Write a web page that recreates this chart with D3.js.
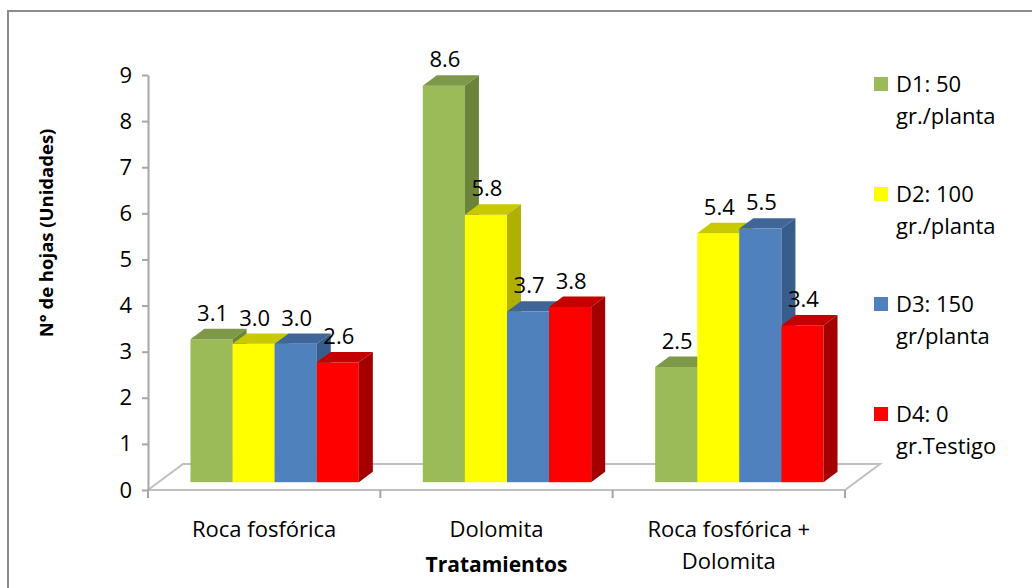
<!DOCTYPE html>
<html>
<head>
<meta charset="utf-8">
<script src="https://cdn.jsdelivr.net/npm/d3@7"></script>
<style>
  body { margin: 0; background: #fff; }
  text { font-family: "Open Sans", sans-serif; fill: #000; }
</style>
</head>
<body>
<div id="chart"></div>
<script>
// data
var categories = ["Roca fosfórica", "Dolomita", "Roca fosfórica + Dolomita"];
var categoryLines = [["Roca fosfórica"], ["Dolomita"], ["Roca fosfórica +", "Dolomita"]];
var seriesKeys = ["D1", "D2", "D3", "D4"];
var legendLines = [["D1: 50", "gr./planta"], ["D2: 100", "gr./planta"], ["D3: 150", "gr/planta"], ["D4: 0", "gr.Testigo"]];
var d1Values = [3.1, 8.6, 2.5];
var d2Values = [3.0, 5.8, 5.4];
var d3Values = [3.0, 3.7, 5.5];
var d4Values = [2.6, 3.8, 3.4];
var yTicks = [0, 1, 2, 3, 4, 5, 6, 7, 8, 9];

var seriesValues = [d1Values, d2Values, d3Values, d4Values];
// front, top, side colours
var faceColors = [
    ["#9bbb59", "#7d9848", "#6b843a"],
    ["#ffff00", "#c9c900", "#b0b000"],
    ["#4f81bd", "#3e6698", "#385d8a"],
    ["#ff0000", "#c40000", "#a50000"]
];

var svgWidth = 1032, svgHeight = 588;

var svg = d3.select("#chart")
    .append("svg")
    .attr("width", svgWidth)
    .attr("height", svgHeight);

// outer border
svg.append("rect")
    .attr("x", 8).attr("y", 11)
    .attr("width", 1040).attr("height", 600)
    .attr("fill", "none")
    .attr("stroke", "#8c8c8c")
    .attr("stroke-width", 2);

// floor geometry (front plane) + depth
var x0 = 148, x1 = 845, yBase = 490;
var depth = {dx: 35, dy: -26};
var barFront = 0.3, barBack = 0.7;

var xScale = d3.scaleBand()
    .domain(categories)
    .range([x0, x1]);

var xInner = d3.scaleBand()
    .domain(seriesKeys)
    .range([0, xScale.bandwidth()])
    .paddingOuter(0.76);

var yScale = d3.scaleLinear()
    .domain([0, 9])
    .range([yBase, 75]);

// floor
var floorPts = [
    [x0, yBase], [x1, yBase],
    [x1 + depth.dx, yBase + depth.dy], [x0 + depth.dx, yBase + depth.dy]
];
svg.append("polygon")
    .attr("points", floorPts.map(p => p.join(",")).join(" "))
    .attr("fill", "#fff")
    .attr("stroke", "#c0c0c0")
    .attr("stroke-width", 2);

// x ticks on front edge
var bounds = categories.map(c => xScale(c)).concat([x1]);
svg.selectAll(".xtick")
    .data(bounds)
    .enter()
    .append("line")
    .attr("x1", d => d).attr("x2", d => d)
    .attr("y1", yBase).attr("y2", yBase + 8)
    .attr("stroke", "#a6a6a6")
    .attr("stroke-width", 2);

// y axis
var leftAxis = d3.axisLeft(yScale)
    .tickValues(yTicks)
    .tickSize(6)
    .tickSizeOuter(0)
    .tickPadding(10);

var yAxisG = svg.append("g")
    .attr("transform", `translate(${x0}, 0)`)
    .call(leftAxis);
yAxisG.select(".domain").attr("stroke", "#a6a6a6").attr("stroke-width", 2);
yAxisG.selectAll(".tick line").attr("stroke", "#a6a6a6").attr("stroke-width", 2);
yAxisG.selectAll(".tick text")
    .attr("font-size", "22px")
    .attr("font-family", "Open Sans, sans-serif")
    .attr("fill", "#000");

// bars
var ofx = depth.dx * barFront, ofy = depth.dy * barFront;
var bdx = depth.dx * (barBack - barFront), bdy = depth.dy * (barBack - barFront);

var bars = [];
categories.forEach(function(cat, ci) {
    seriesKeys.forEach(function(key, si) {
        bars.push({cat: cat, key: key, si: si, value: seriesValues[si][ci]});
    });
});

var barW = xInner.bandwidth();
bars.forEach(function(b) {
    b.x = xScale(b.cat) + xInner(b.key) + ofx;
    b.yTop = yScale(b.value) + ofy;
    b.yBot = yScale(0) + ofy;
});

var barG = svg.selectAll(".bar")
    .data(bars)
    .enter()
    .append("g")
    .attr("class", "bar");

barG.append("rect")
    .attr("x", d => d.x)
    .attr("y", d => d.yTop)
    .attr("width", barW)
    .attr("height", d => d.yBot - d.yTop)
    .attr("fill", d => faceColors[d.si][0]);

barG.append("polygon")
    .attr("points", d => [
        [d.x, d.yTop], [d.x + barW, d.yTop],
        [d.x + barW + bdx, d.yTop + bdy], [d.x + bdx, d.yTop + bdy]
    ].map(p => p.join(",")).join(" "))
    .attr("fill", d => faceColors[d.si][1]);

barG.append("polygon")
    .attr("points", d => [
        [d.x + barW, d.yTop], [d.x + barW + bdx, d.yTop + bdy],
        [d.x + barW + bdx, d.yBot + bdy], [d.x + barW, d.yBot]
    ].map(p => p.join(",")).join(" "))
    .attr("fill", d => faceColors[d.si][2]);

// data labels
svg.selectAll(".dlabel")
    .data(bars)
    .enter()
    .append("text")
    .attr("class", "dlabel")
    .attr("x", d => d.x + barW / 2 + 1)
    .attr("y", d => d.yTop - 26)
    .attr("dy", "0.35em")
    .attr("text-anchor", "middle")
    .attr("font-size", "22px")
    .text(d => d.value.toFixed(1));

// category labels
var catG = svg.selectAll(".cat")
    .data(categories)
    .enter()
    .append("text")
    .attr("class", "cat")
    .attr("text-anchor", "middle")
    .attr("font-size", "22px");

catG.selectAll("tspan")
    .data((d, i) => categoryLines[i].map(t => ({t: t, c: d})))
    .enter()
    .append("tspan")
    .attr("x", d => xScale(d.c) + xScale.bandwidth() / 2)
    .attr("y", (d, i) => 537 + i * 32)
    .text(d => d.t);

// axis titles
svg.append("text")
    .attr("x", (x0 + x1) / 2)
    .attr("y", 572)
    .attr("text-anchor", "middle")
    .attr("font-size", "21px")
    .attr("font-weight", "bold")
    .text("Tratamientos");

svg.append("text")
    .attr("transform", "translate(53, 233) rotate(-90)")
    .attr("text-anchor", "middle")
    .attr("font-size", "18.5px")
    .attr("font-weight", "bold")
    .text("N° de hojas (Unidades)");

// legend
var legend = svg.selectAll(".legend")
    .data(seriesKeys)
    .enter()
    .append("g")
    .attr("class", "legend")
    .attr("transform", (d, i) => `translate(874, ${84 + i * 110})`);

legend.append("rect")
    .attr("x", 0).attr("y", -7)
    .attr("width", 14).attr("height", 14)
    .attr("fill", (d, i) => faceColors[i][0]);

legend.each(function(d, i) {
    d3.select(this).selectAll("text")
        .data(legendLines[i])
        .enter()
        .append("text")
        .attr("x", 22)
        .attr("y", (t, j) => j * 32)
        .attr("dy", "0.35em")
        .attr("font-size", "22px")
        .text(t => t);
});
</script>
</body>
</html>
